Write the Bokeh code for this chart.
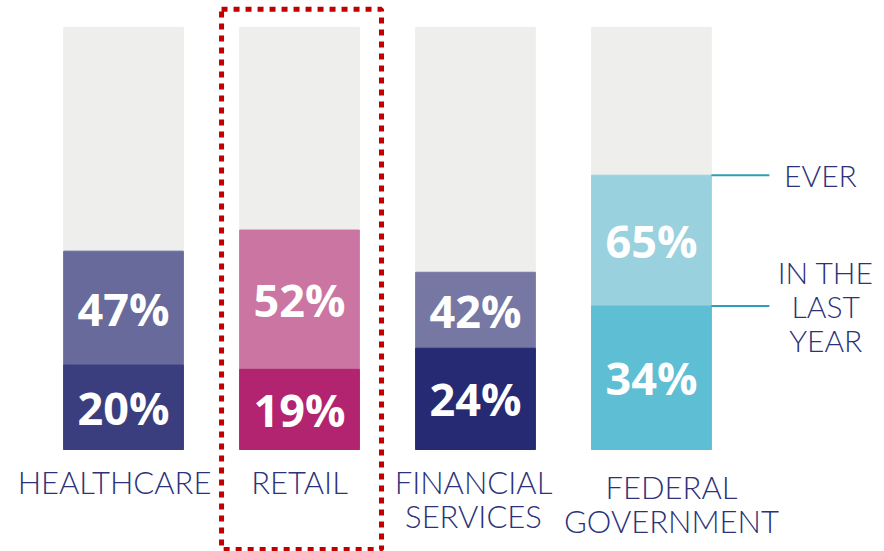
from bokeh.plotting import figure
from bokeh.models import Range1d, BoxAnnotation, ColumnDataSource
from bokeh.core.properties import value
from bokeh.embed import file_html
from bokeh.resources import INLINE

# ---- data ----
categories = ["HEALTHCARE", "RETAIL", "FINANCIAL\nSERVICES", "FEDERAL\nGOVERNMENT"]
ever = [47, 52, 42, 65]
last_year = [20, 19, 24, 34]
total = [100, 100, 100, 100]
series_labels = ["EVER", "IN THE\nLAST\nYEAR"]
highlight_index = 1

# ---- styles ----
ever_colors = ["#676a9b", "#cb75a2", "#7777a3", "#9ad1de"]
last_colors = ["#3a3e7e", "#b2246f", "#252a73", "#5dbed4"]
grey = "#eeeeec"
navy = "#2b3278"
teal = "#2e9fb8"
bar_w = 0.68
cat_dx = [-9, 0, -2, 20]
cat_dy = [13, 13, 13, 18]
label_font = value("'Lato Light', Lato")

x = list(range(len(categories)))

src = ColumnDataSource(dict(
    x=x, total=total, ever=ever, last=last_year,
    ever_c=ever_colors, last_c=last_colors,
    ever_txt=[f"{v}%" for v in ever],
    last_txt=[f"{v}%" for v in last_year],
    ever_mid=[(a + b) / 2 for a, b in zip(ever, last_year)],
    last_mid=[b / 2 for b in last_year],
    cat=categories, cdx=cat_dx, cdy=cat_dy,
))

p = figure(width=884, height=551, x_range=Range1d(-0.699, 4.324),
           y_range=Range1d(-24.17, 106.4), output_backend="svg",
           toolbar_location=None, min_border=0)
p.axis.visible = False
p.grid.visible = False
p.outline_line_color = None
p.background_fill_color = "white"

p.vbar(x="x", width=bar_w, bottom=0, top="total", source=src, color=grey)
p.vbar(x="x", width=bar_w, bottom=0, top="ever", source=src, color="ever_c")
p.vbar(x="x", width=bar_w, bottom=0, top="last", source=src, color="last_c")

p.text(x="x", y="ever_mid", text="ever_txt", source=src, text_color="white",
       text_font=value("Open Sans"), text_font_style="bold", text_font_size="45px",
       text_align="center", text_baseline="middle")
p.text(x="x", y="last_mid", text="last_txt", source=src, text_color="white",
       text_font=value("Open Sans"), text_font_style="bold", text_font_size="45px",
       text_align="center", text_baseline="middle")

p.text(x="x", y=0, text="cat", source=src, x_offset="cdx", y_offset="cdy",
       text_color=navy, text_font=label_font, text_font_size="31px",
       text_align="center", text_baseline="top", text_line_height=0.9)

# leader lines & series labels on last bar
i = len(categories) - 1
lx0 = x[i] + bar_w / 2
lx1 = x[i] + 0.67
p.segment(x0=[lx0, lx0], y0=[ever[i], last_year[i]], x1=[lx1, lx1],
          y1=[ever[i], last_year[i]], line_color=teal, line_width=2)
p.text(x=[x[i] + 0.96, x[i] + 0.99], y=[ever[i], last_year[i]], text=series_labels,
       text_color=navy, text_font=label_font, text_font_size="30px",
       text_align="center", text_baseline="middle", text_line_height=0.95)

# dotted highlight box
box = BoxAnnotation(left=x[highlight_index] - 0.443, right=x[highlight_index] + 0.466,
                    top=104.3, bottom=-23.7, fill_alpha=0, line_color="#c00000",
                    line_alpha=1.0, line_width=5, line_dash="6 6")
p.add_layout(box)

open("out.html", "w").write(file_html(p, INLINE))
